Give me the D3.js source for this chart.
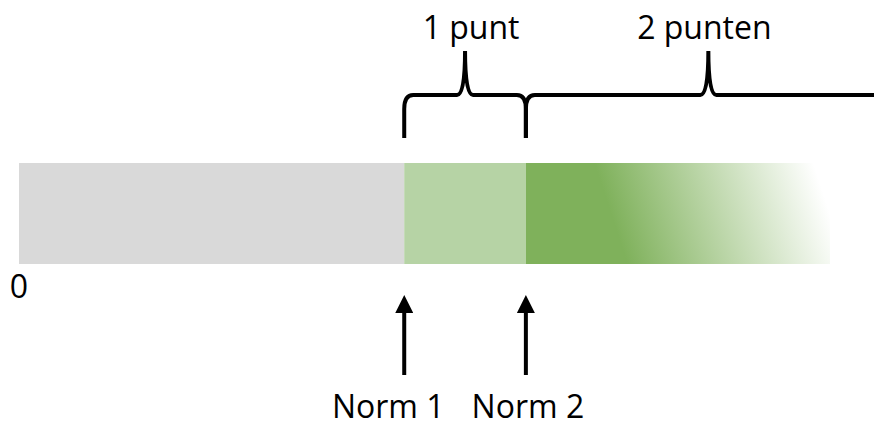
<!DOCTYPE html>
<html>
<head>
<meta charset="utf-8">
<script src="https://cdn.jsdelivr.net/npm/d3@7"></script>
<style>
  body { margin: 0; background: #fff; }
  text { font-family: "Open Sans", sans-serif; fill: #000; }
</style>
</head>
<body>
<div id="chart"></div>
<script>
var width = 874,
    height = 426;

// scale runs 0..100, the bar stops at 100
var scaleMax = 100;
var normLabels = ['Norm 1', 'Norm 2'];
var normValues = [47.5, 62.5];
var braceLabels = ['1 punt', '2 punten'];
var braceStart = [47.5, 62.5];
var braceEnd = [62.5, 107.5];
var zeroLabel = '0';

var x = d3.scaleLinear()
    .domain([0, scaleMax])
    .range([19, 830]);

var barTop = 163, barBottom = 264,
    fontSize = '32px';

var svg = d3.select('#chart').append('svg')
    .attr('width', width)
    .attr('height', height);

var defs = svg.append('defs');

// tilted fade: solid green up to about 73 on the scale, white at the end
var midY = (barTop + barBottom) / 2,
    fx = x(73),
    ang = Math.atan2(-33, 101),
    len = (x(scaleMax) - fx) * Math.cos(ang);

var grad = defs.append('linearGradient')
    .attr('id', 'fade')
    .attr('gradientUnits', 'userSpaceOnUse')
    .attr('x1', fx).attr('y1', midY)
    .attr('x2', fx + len * Math.cos(ang)).attr('y2', midY + len * Math.sin(ang));
grad.append('stop').attr('offset', '0%').attr('stop-color', '#7fb15b');
grad.append('stop').attr('offset', '100%').attr('stop-color', '#ffffff');

var arrowHead = defs.append('marker')
    .attr('id', 'head')
    .attr('viewBox', '0 0 10 10')
    .attr('refX', 0).attr('refY', 5)
    .attr('markerUnits', 'userSpaceOnUse')
    .attr('markerWidth', 20).attr('markerHeight', 18)
    .attr('orient', 'auto');
arrowHead.append('path')
    .attr('d', 'M0,0 L10,5 L0,10 Z')
    .attr('fill', '#000');

// bar segments
var segments = [
    {from: 0, to: normValues[0], fill: '#d9d9d9'},
    {from: normValues[0], to: normValues[1], fill: '#b6d3a5'},
    {from: normValues[1], to: scaleMax, fill: 'url(#fade)'}
];

svg.selectAll('rect.seg')
    .data(segments)
    .enter().append('rect')
    .attr('class', 'seg')
    .attr('x', function(d) { return x(d.from); })
    .attr('y', barTop)
    .attr('width', function(d) { return x(d.to) - x(d.from); })
    .attr('height', barBottom - barTop)
    .style('fill', function(d) { return d.fill; });

svg.append('text')
    .attr('x', x(0))
    .attr('y', 298)
    .attr('text-anchor', 'middle')
    .style('font-size', fontSize)
    .text(zeroLabel);

// curly braces above the bar
var braceY = 95, braceBottom = 138, tipY = 51;

function bracePath(x1, x2) {
    var xm = (x1 + x2) / 2;
    var p = d3.path();
    p.moveTo(x1, braceBottom);
    p.lineTo(x1, braceY + 14);
    p.quadraticCurveTo(x1, braceY, x1 + 9, braceY);
    p.lineTo(xm - 8, braceY);
    p.quadraticCurveTo(xm, braceY, xm, tipY);
    p.quadraticCurveTo(xm, braceY, xm + 8, braceY);
    p.lineTo(x2 - 9, braceY);
    p.quadraticCurveTo(x2, braceY, x2, braceY + 14);
    p.lineTo(x2, braceBottom);
    return p.toString();
}

var braces = svg.selectAll('g.brace')
    .data(braceLabels)
    .enter().append('g')
    .attr('class', 'brace');

braces.append('path')
    .attr('d', function(d, i) { return bracePath(x(braceStart[i]), x(braceEnd[i])); })
    .style('fill', 'none')
    .style('stroke', '#000')
    .style('stroke-width', 4);

braces.append('text')
    .attr('x', function(d, i) { return (x(braceStart[i]) + x(braceEnd[i])) / 2 + (i == 0 ? 6 : -4); })
    .attr('y', 39)
    .attr('text-anchor', 'middle')
    .style('font-size', fontSize)
    .text(function(d) { return d; });

// arrows pointing at the norms
var norms = svg.selectAll('g.norm')
    .data(normLabels)
    .enter().append('g')
    .attr('class', 'norm');

norms.append('line')
    .attr('x1', function(d, i) { return x(normValues[i]); })
    .attr('x2', function(d, i) { return x(normValues[i]); })
    .attr('y1', 375)
    .attr('y2', 313)
    .style('stroke', '#000')
    .style('stroke-width', 4)
    .attr('marker-end', 'url(#head)');

norms.append('text')
    .attr('x', function(d, i) { return x(normValues[i]) - (i == 0 ? 16 : -2); })
    .attr('y', 418)
    .attr('text-anchor', 'middle')
    .style('font-size', fontSize)
    .text(function(d) { return d; });
</script>
</body>
</html>
